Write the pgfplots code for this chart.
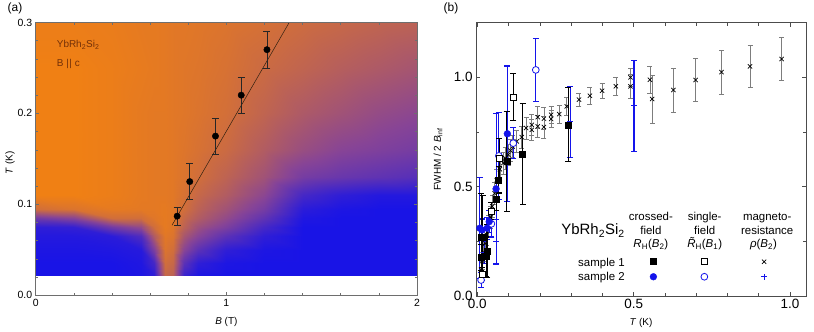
\documentclass[border=0pt]{standalone}
\usepackage{fontspec}
\setmainfont{Liberation Sans}
\usepackage{pgfplots}
\usepackage{pgfplotstable}
\pgfplotsset{compat=1.18}

\definecolor{mblue}{RGB}{20,20,235}
\definecolor{ebgray}{RGB}{125,125,125}
\definecolor{txtor}{RGB}{115,48,8}
\definecolor{axgray}{RGB}{110,110,110}
\newcommand\fs[1]{\fontsize{#1}{#1}\selectfont}

% colour map of panel (a): v=0 blue, v=1 orange
\pgfplotstableread[row sep=\\]{
B T v \\
0 0.022 0 \\ 0.2 0.022 0 \\ 0.4 0.022 0 \\ 0.55 0.022 0.02 \\ 0.62 0.022 0.1 \\ 0.68 0.022 0.8 \\ 0.72 0.022 0.75 \\ 0.78 0.022 0.15 \\ 0.85 0.022 0.02 \\ 1.0 0.022 0 \\ 1.2 0.022 0 \\ 1.4 0.022 0 \\ 1.6 0.022 0 \\ 1.8 0.022 0 \\ 2.0 0.022 0 \\
0 0.035 0 \\ 0.2 0.035 0 \\ 0.4 0.035 0 \\ 0.55 0.035 0.03 \\ 0.62 0.035 0.2 \\ 0.68 0.035 0.85 \\ 0.72 0.035 0.8 \\ 0.78 0.035 0.3 \\ 0.85 0.035 0.1 \\ 1.0 0.035 0.02 \\ 1.2 0.035 0 \\ 1.4 0.035 0 \\ 1.6 0.035 0 \\ 1.8 0.035 0 \\ 2.0 0.035 0 \\
0 0.05 0.02 \\ 0.2 0.05 0.02 \\ 0.4 0.05 0.03 \\ 0.55 0.05 0.06 \\ 0.62 0.05 0.45 \\ 0.68 0.05 0.9 \\ 0.72 0.05 0.85 \\ 0.78 0.05 0.5 \\ 0.85 0.05 0.3 \\ 1.0 0.05 0.1 \\ 1.2 0.05 0.02 \\ 1.4 0.05 0 \\ 1.6 0.05 0 \\ 1.8 0.05 0 \\ 2.0 0.05 0 \\
0 0.065 0.05 \\ 0.2 0.065 0.05 \\ 0.4 0.065 0.08 \\ 0.55 0.065 0.25 \\ 0.62 0.065 0.7 \\ 0.68 0.065 0.93 \\ 0.72 0.065 0.9 \\ 0.78 0.065 0.65 \\ 0.85 0.065 0.5 \\ 1.0 0.065 0.3 \\ 1.2 0.065 0.1 \\ 1.4 0.065 0 \\ 1.6 0.065 0 \\ 1.8 0.065 0 \\ 2.0 0.065 0 \\
0 0.075 0.1 \\ 0.2 0.075 0.12 \\ 0.4 0.075 0.4 \\ 0.55 0.075 0.55 \\ 0.62 0.075 0.85 \\ 0.68 0.075 0.95 \\ 0.72 0.075 0.92 \\ 0.78 0.075 0.75 \\ 0.85 0.075 0.6 \\ 1.0 0.075 0.45 \\ 1.2 0.075 0.2 \\ 1.4 0.075 0 \\ 1.6 0.075 0 \\ 1.8 0.075 0 \\ 2.0 0.075 0 \\
0 0.085 0.4 \\ 0.2 0.085 0.5 \\ 0.4 0.085 0.85 \\ 0.55 0.085 0.85 \\ 0.62 0.085 0.92 \\ 0.68 0.085 0.95 \\ 0.72 0.085 0.93 \\ 0.78 0.085 0.8 \\ 0.85 0.085 0.7 \\ 1.0 0.085 0.55 \\ 1.2 0.085 0.32 \\ 1.4 0.085 0.03 \\ 1.6 0.085 0 \\ 1.8 0.085 0 \\ 2.0 0.085 0 \\
0 0.095 0.85 \\ 0.2 0.095 0.9 \\ 0.4 0.095 0.95 \\ 0.55 0.095 0.94 \\ 0.62 0.095 0.94 \\ 0.68 0.095 0.95 \\ 0.72 0.095 0.93 \\ 0.78 0.095 0.85 \\ 0.85 0.095 0.75 \\ 1.0 0.095 0.62 \\ 1.2 0.095 0.42 \\ 1.4 0.095 0.08 \\ 1.6 0.095 0.02 \\ 1.8 0.095 0 \\ 2.0 0.095 0 \\
0 0.11 1 \\ 0.2 0.11 1 \\ 0.4 0.11 0.98 \\ 0.55 0.11 0.95 \\ 0.62 0.11 0.94 \\ 0.68 0.11 0.94 \\ 0.72 0.11 0.93 \\ 0.78 0.11 0.88 \\ 0.85 0.11 0.8 \\ 1.0 0.11 0.7 \\ 1.2 0.11 0.52 \\ 1.4 0.11 0.2 \\ 1.6 0.11 0.1 \\ 1.8 0.11 0.05 \\ 2.0 0.11 0.05 \\
0 0.13 1 \\ 0.2 0.13 1 \\ 0.4 0.13 0.98 \\ 0.55 0.13 0.95 \\ 0.62 0.13 0.94 \\ 0.68 0.13 0.94 \\ 0.72 0.13 0.93 \\ 0.78 0.13 0.9 \\ 0.85 0.13 0.85 \\ 1.0 0.13 0.76 \\ 1.2 0.13 0.62 \\ 1.4 0.13 0.42 \\ 1.6 0.13 0.36 \\ 1.8 0.13 0.32 \\ 2.0 0.13 0.28 \\
0 0.16 1 \\ 0.2 0.16 1 \\ 0.4 0.16 0.98 \\ 0.55 0.16 0.95 \\ 0.62 0.16 0.94 \\ 0.68 0.16 0.94 \\ 0.72 0.16 0.93 \\ 0.78 0.16 0.91 \\ 0.85 0.16 0.88 \\ 1.0 0.16 0.82 \\ 1.2 0.16 0.7 \\ 1.4 0.16 0.58 \\ 1.6 0.16 0.5 \\ 1.8 0.16 0.46 \\ 2.0 0.16 0.42 \\
0 0.2 1 \\ 0.2 0.2 1 \\ 0.4 0.2 0.98 \\ 0.55 0.2 0.95 \\ 0.62 0.2 0.94 \\ 0.68 0.2 0.94 \\ 0.72 0.2 0.93 \\ 0.78 0.2 0.92 \\ 0.85 0.2 0.9 \\ 1.0 0.2 0.86 \\ 1.2 0.2 0.77 \\ 1.4 0.2 0.68 \\ 1.6 0.2 0.62 \\ 1.8 0.2 0.56 \\ 2.0 0.2 0.52 \\
0 0.25 1 \\ 0.2 0.25 1 \\ 0.4 0.25 0.98 \\ 0.55 0.25 0.96 \\ 0.62 0.25 0.95 \\ 0.68 0.25 0.94 \\ 0.72 0.25 0.93 \\ 0.78 0.25 0.92 \\ 0.85 0.25 0.91 \\ 1.0 0.25 0.88 \\ 1.2 0.25 0.82 \\ 1.4 0.25 0.77 \\ 1.6 0.25 0.72 \\ 1.8 0.25 0.68 \\ 2.0 0.25 0.64 \\
0 0.3 0.98 \\ 0.2 0.3 0.98 \\ 0.4 0.3 0.97 \\ 0.55 0.3 0.95 \\ 0.62 0.3 0.95 \\ 0.68 0.3 0.94 \\ 0.72 0.3 0.93 \\ 0.78 0.3 0.93 \\ 0.85 0.3 0.92 \\ 1.0 0.3 0.9 \\ 1.2 0.3 0.87 \\ 1.4 0.3 0.83 \\ 1.6 0.3 0.8 \\ 1.8 0.3 0.77 \\ 2.0 0.3 0.75 \\
}\mapdata

% panel (a): crossover points
\pgfplotstableread{
B T e
0.742 0.087 0.010
0.808 0.125 0.020
0.943 0.175 0.020
1.078 0.220 0.020
1.213 0.270 0.020
}\cross

% panel (b)
\pgfplotstableread{
T V e
0.013 0.177 0.06
0.017 0.271 0.187
0.028 0.180 0.09
0.031 0.206 0.12
0.061 0.443 0.05
0.068 0.531 0.06
0.094 0.615 0.23
0.145 0.650 0.23
0.291 0.783 0.169
}\cfone

\pgfplotstableread{
T V e
0.013 0.268 0.20
0.015 0.100 0.03
0.044 0.389 0.04
0.070 0.630 0.09
0.115 0.910 0.107
}\sfone

\pgfplotstableread{
T V e
0.012 0.12 0.04
0.016 0.16 0.04
0.020 0.20 0.04
0.025 0.24 0.04
0.030 0.28 0.05
0.036 0.32 0.05
0.042 0.36 0.05
0.048 0.41 0.05
0.055 0.47 0.05
0.062 0.53 0.05
0.072 0.58 0.05
0.083 0.608 0.05
0.090 0.630 0.05
0.099 0.646 0.05
0.106 0.665 0.05
0.113 0.684 0.05
0.126 0.707 0.05
0.142 0.727 0.05
0.156 0.768 0.05
0.174 0.783 0.05
0.174 0.760 0.05
0.193 0.776 0.05
0.193 0.818 0.05
0.213 0.811 0.05
0.213 0.773 0.05
0.236 0.829 0.04
0.236 0.810 0.04
0.262 0.832 0.04
0.286 0.867 0.04
0.325 0.898 0.03
0.360 0.916 0.04
0.399 0.939 0.035
0.443 0.959 0.042
0.490 1.000 0.04
0.490 0.959 0.057
0.552 0.989 0.06
0.559 0.901 0.11
0.627 0.942 0.10
0.698 0.988 0.097
0.781 1.024 0.10
0.872 1.050 0.097
0.973 1.084 0.097
}\mrone

\pgfplotstableread{
T V e
0.008 0.310 0.23
0.015 0.302 0.05
0.031 0.310 0.05
0.038 0.340 0.05
0.060 0.490 0.345
0.096 0.742 0.31
}\cftwo

\pgfplotstableread{
T V e
0.012 0.073 0.035
0.045 0.330 0.06
0.069 0.641 0.20
0.115 0.699 0.07
0.187 1.034 0.144
}\sftwo

\pgfplotstableread{
T V e
0.022 0.200 0.05
0.060 0.250 0.10
0.297 0.797 0.163
0.501 0.870 0.208
}\mrtwo

\begin{document}
\begin{tikzpicture}
\path[use as bounding box] (0bp,0bp) rectangle (814bp,332bp);

% ---------------- panel (a)
\begin{axis}[
  at={(35.7bp,36.7bp)}, anchor=south west,
  scale only axis, width=381.3bp, height=272.9bp,
  xmin=0, xmax=2, ymin=0, ymax=0.3,
  axis line style={axgray, line width=0.7pt},
  axis on top,
  tick align=inside, tick style={axgray, line width=0.5pt},
  major tick length=3bp, minor tick length=2.5bp,
  xtick={0,1,2}, minor x tick num=4,
  ytick={0,0.1,0.2,0.3}, minor y tick num=4,
  yticklabel style={/pgf/number format/fixed, /pgf/number format/fixed zerofill, /pgf/number format/precision=1},
  /pgf/number format/assume math mode=true,
  tick label style={font=\fs{10.5}, text=black},
  xlabel={\textit{B} (T)}, ylabel={\textit{T} (K)},
  label style={font=\fs{12}, text=black},
  every axis x label/.style={at={(axis description cs:0.5,-0.097)}, anchor=center},
  every axis y label/.style={at={(axis description cs:-0.067,0.485)}, anchor=center, rotate=90},
  colormap={bo}{rgb255=(25,20,230) rgb255=(135,68,150) rgb255=(240,128,20)},
  point meta min=0, point meta max=1,
]
\addplot[surf, shader=interp, mesh/ordering=x varies, mesh/cols=15, point meta=\thisrow{v}]
  table[x=B, y=T] {\mapdata};
\addplot[black!75!brown, line width=0.5pt] coordinates {(0.715,0.077) (1.330,0.300)};
\addplot[only marks, mark=*, mark size=3.2bp, black,
  error bars/.cd, y dir=both, y explicit,
  error bar style={line width=0.7pt, black!85},
  error mark options={rotate=90, mark size=3.5bp, line width=0.7pt, black!85}]
  table[x=B, y=T, y error=e] {\cross};
\node[anchor=base west, font=\fs{10}, text=txtor, inner sep=0pt] at (axis cs:0.11,0.272) {YbRh\textsubscript{2}Si\textsubscript{2}};
\node[anchor=base west, font=\fs{10}, text=txtor, inner sep=0pt] at (axis cs:0.11,0.251) {B \textbar\kern0.6pt\textbar{} c};
\end{axis}

% ---------------- panel (b)
\begin{axis}[
  at={(476bp,36bp)}, anchor=south west,
  scale only axis, width=330bp, height=273.3bp,
  xmin=-0.0042, xmax=1.051, ymin=0, ymax=1.25,
  axis line style={black!70, line width=0.8pt},
  tick align=inside, tick style={black!70, line width=0.6pt},
  major tick length=4.3bp, minor tick length=3.3bp,
  xtick={0,0.5,1}, minor x tick num=4,
  ytick={0,0.5,1}, minor y tick num=1,
  /pgf/number format/fixed, /pgf/number format/fixed zerofill, /pgf/number format/precision=1,
  /pgf/number format/assume math mode=true,
  tick label style={font=\fs{13.5}, text=black},
  xlabel={\textit{T} (K)}, ylabel={FWHM / 2 \textit{B}\textsubscript{inf}},
  label style={font=\fs{14}, text=black},
  every axis x label/.style={at={(axis description cs:0.5,-0.098)}, anchor=center},
  every axis y label/.style={at={(axis description cs:-0.115,0.5)}, anchor=center, rotate=90},
  sq1/.style={mark=square*, mark size=3bp, black},
  sq1o/.style={mark=square*, mark size=3bp, black, fill=white, line width=0.8pt},
  x1/.style={mark=x, mark size=3bp, black, line width=0.7pt},
  ci2/.style={mark=*, mark size=3.4bp, mblue},
  ci2o/.style={mark=*, mark size=3.4bp, mblue, fill=white, line width=0.8pt},
  p2/.style={mark=+, mark size=3bp, mblue, line width=0.8pt},
]
% magnetoresistance, sample 1
\addplot[only marks, x1,
  error bars/.cd, y dir=both, y explicit,
  error bar style={line width=0.6pt, ebgray},
  error mark options={rotate=90, mark size=2.5bp, line width=0.6pt, ebgray}]
  table[x=T, y=V, y error=e] {\mrone};
% magnetoresistance, sample 2
\addplot[only marks, p2,
  error bars/.cd, y dir=both, y explicit,
  error bar style={line width=1.1pt, mblue},
  error mark options={rotate=90, mark size=3bp, line width=1.1pt, mblue}]
  table[x=T, y=V, y error=e] {\mrtwo};
% single field, sample 2
\addplot[only marks, ci2o,
  error bars/.cd, y dir=both, y explicit,
  error bar style={line width=1.1pt, mblue},
  error mark options={rotate=90, mark size=3bp, line width=1.1pt, mblue}]
  table[x=T, y=V, y error=e] {\sftwo};
% crossed field, sample 2
\addplot[only marks, ci2,
  error bars/.cd, y dir=both, y explicit,
  error bar style={line width=1.1pt, mblue},
  error mark options={rotate=90, mark size=3bp, line width=1.1pt, mblue}]
  table[x=T, y=V, y error=e] {\cftwo};
% single field, sample 1
\addplot[only marks, sq1o,
  error bars/.cd, y dir=both, y explicit,
  error bar style={line width=1.1pt, black},
  error mark options={rotate=90, mark size=3bp, line width=1.1pt, black}]
  table[x=T, y=V, y error=e] {\sfone};
% crossed field, sample 1
\addplot[only marks, sq1,
  error bars/.cd, y dir=both, y explicit,
  error bar style={line width=1.1pt, black},
  error mark options={rotate=90, mark size=3bp, line width=1.1pt, black}]
  table[x=T, y=V, y error=e] {\cfone};

% key symbols of the legend table
\addplot[only marks, sq1]  coordinates {(0.563,0.157)};
\addplot[only marks, sq1o] coordinates {(0.726,0.157)};
\addplot[only marks, x1]   coordinates {(0.917,0.157)};
\addplot[only marks, ci2]  coordinates {(0.563,0.088)};
\addplot[only marks, ci2o] coordinates {(0.726,0.088)};
\addplot[only marks, p2]   coordinates {(0.917,0.088)};

\begin{scope}[every node/.style={font=\fs{11.5}, text=black, inner sep=0pt}]
\node[anchor=base] at (axis cs:0.555,0.344) {crossed-};
\node[anchor=base] at (axis cs:0.555,0.283) {field};
\node[anchor=base] at (axis cs:0.555,0.222) {\textit{R}\textsubscript{H}(\textit{B}\textsubscript{2})};
\node[anchor=base] at (axis cs:0.727,0.344) {single-};
\node[anchor=base] at (axis cs:0.727,0.283) {field};
\node[anchor=base] at (axis cs:0.727,0.222) {\textit{\~R}\textsubscript{H}(\textit{B}\textsubscript{1})};
\node[anchor=base] at (axis cs:0.927,0.344) {magneto-};
\node[anchor=base] at (axis cs:0.927,0.283) {resistance};
\node[anchor=base] at (axis cs:0.915,0.222) {\textit{ρ}(\textit{B}\textsubscript{2})};
\node[anchor=base east] at (axis cs:0.472,0.134) {sample 1};
\node[anchor=base east] at (axis cs:0.472,0.070) {sample 2};
\node[anchor=base east, font=\fs{15}] at (axis cs:0.472,0.279) {YbRh\textsubscript{2}Si\textsubscript{2}};
\end{scope}
\end{axis}

\node[font=\fs{12}, text=black] at (15bp,324bp) {(a)};
\node[font=\fs{12}, text=black] at (451bp,324bp) {(b)};
\end{tikzpicture}
\end{document}
